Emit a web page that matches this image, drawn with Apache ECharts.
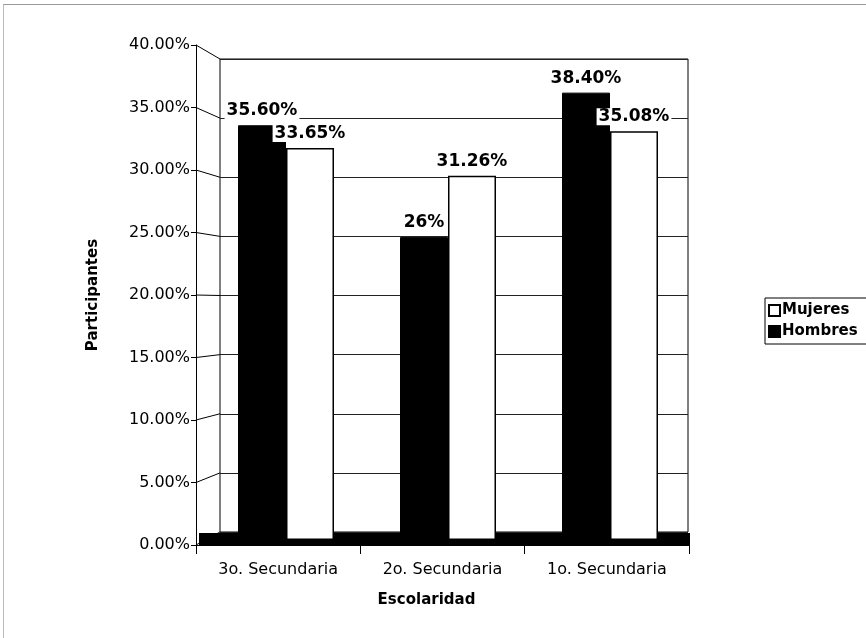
<!DOCTYPE html>
<html>
<head>
<meta charset="utf-8">
<script src="https://cdn.jsdelivr.net/npm/echarts@6/dist/echarts.min.js"></script>
<style>
html,body{margin:0;padding:0;background:#fff;}
#frame{position:absolute;left:3px;top:4px;width:870px;height:640px;border-top:1px solid #999;border-left:1px solid #bbb;}
#chart{position:absolute;left:0;top:0;width:866px;height:638px;}
</style>
</head>
<body>
<div id="frame"></div>
<div id="chart"></div>
<script>
const categories = ['3o. Secundaria', '2o. Secundaria', '1o. Secundaria'];
const hombres = [0.3560, 0.26, 0.3840];
const mujeres = [0.3365, 0.3126, 0.3508];
const hombresLabels = ['35.60%', '26%', '38.40%'];
const mujeresLabels = ['33.65%', '31.26%', '35.08%'];
const legendOrder = ['Mujeres', 'Hombres'];
const yTicks = { min: 0, max: 0.4, interval: 0.05 };

const FONT = '"DejaVu Sans", sans-serif';
const chart = echarts.init(document.getElementById('chart'), null, { renderer: 'canvas' });

const wallGrid = { left: 220, right: 178, top: 59, bottom: 106, show: true, borderColor: '#000', borderWidth: 1, backgroundColor: '#fff' };
const floorGrid = { left: 199, right: 176, top: 533, bottom: 93, show: true, borderWidth: 0, backgroundColor: '#000' };
const frontGrid = { left: 196, right: 177, top: 45, bottom: 93 };
const barGrid = { left: 205, right: 175, top: 74, bottom: 98 };

const hidden = { show: false };
function labelFor(arr) {
  return {
    show: true, position: 'top', distance: 6,
    fontFamily: FONT, fontWeight: 'bold', fontSize: 17, color: '#000',
    backgroundColor: '#fff', padding: [0, 2, 0, 2],
    formatter: p => arr[p.dataIndex]
  };
}

chart.setOption({
  animation: false,
  backgroundColor: 'transparent',
  textStyle: { fontFamily: FONT },
  grid: [wallGrid, floorGrid, frontGrid, barGrid],
  xAxis: [
    { gridIndex: 0, type: 'category', data: categories, show: false },
    { gridIndex: 1, type: 'category', data: categories, show: false },
    {
      gridIndex: 2, type: 'category', data: categories,
      axisLine: { show: true, lineStyle: { color: '#000', width: 1 } },
      axisTick: { show: true, length: 9, lineStyle: { color: '#000' } },
      axisLabel: { color: '#000', fontFamily: FONT, fontSize: 16, margin: 17 },
      name: 'Escolaridad', nameLocation: 'middle', nameGap: 48,
      nameTextStyle: { fontFamily: FONT, fontWeight: 'bold', fontSize: 15, color: '#000', padding: [0, 32, 0, 0] }
    },
    { gridIndex: 3, type: 'category', data: categories, show: false }
  ],
  yAxis: [
    {
      gridIndex: 0, type: 'value', min: yTicks.min, max: yTicks.max, interval: yTicks.interval,
      axisLine: hidden, axisTick: hidden, axisLabel: hidden,
      splitLine: { show: true, lineStyle: { color: '#222', width: 1 } }
    },
    { gridIndex: 1, type: 'value', min: yTicks.min, max: yTicks.max, show: false, splitLine: hidden },
    {
      gridIndex: 2, type: 'value', min: yTicks.min, max: yTicks.max, interval: yTicks.interval,
      axisLine: { show: true, lineStyle: { color: '#000', width: 1 } },
      axisTick: { show: true, length: 5, lineStyle: { color: '#000' } },
      axisLabel: { color: '#000', fontFamily: FONT, fontSize: 16, margin: 6, formatter: v => (v * 100).toFixed(2) + '%' },
      splitLine: hidden,
      name: 'Participantes', nameLocation: 'middle', nameGap: 95, nameRotate: 90,
      nameTextStyle: { fontFamily: FONT, fontWeight: 'bold', fontSize: 15, color: '#000' }
    },
    { gridIndex: 3, type: 'value', min: yTicks.min, max: yTicks.max, show: false, splitLine: hidden }
  ],
  legend: {
    data: legendOrder,
    orient: 'vertical', left: 765, top: 298,
    borderColor: '#000', borderWidth: 1, padding: [5, 12, 5, 3],
    itemWidth: 11, itemHeight: 11, itemGap: 6,
    textStyle: { fontFamily: FONT, fontWeight: 'bold', fontSize: 15, color: '#000', padding: [0, 0, 0, -3] },
    icon: 'rect'
  },
  series: [
    {
      name: 'Hombres', type: 'bar', xAxisIndex: 3, yAxisIndex: 3,
      data: hombres, barWidth: 48, barGap: '0%',
      itemStyle: { color: '#000', borderColor: '#000', borderWidth: 1 },
      label: labelFor(hombresLabels)
    },
    {
      name: 'Mujeres', type: 'bar', xAxisIndex: 3, yAxisIndex: 3,
      data: mujeres, barWidth: 48, barGap: '0%',
      itemStyle: { color: '#fff', borderColor: '#000', borderWidth: 1.5 },
      label: labelFor(mujeresLabels)
    }
  ]
});

// depth connectors from front axis ticks to the back wall, positioned via the axes' own scales
const connectors = [];
for (let v = yTicks.min; v <= yTicks.max + 1e-9; v += yTicks.interval) {
  const yFront = chart.convertToPixel({ yAxisIndex: 2 }, v);
  const yBack = chart.convertToPixel({ yAxisIndex: 0 }, v);
  connectors.push({
    type: 'line', silent: true, z: 5,
    shape: { x1: frontGrid.left, y1: yFront, x2: wallGrid.left, y2: yBack },
    style: { stroke: '#000', lineWidth: 1 }
  });
}
chart.setOption({ graphic: connectors });
</script>
</body>
</html>
